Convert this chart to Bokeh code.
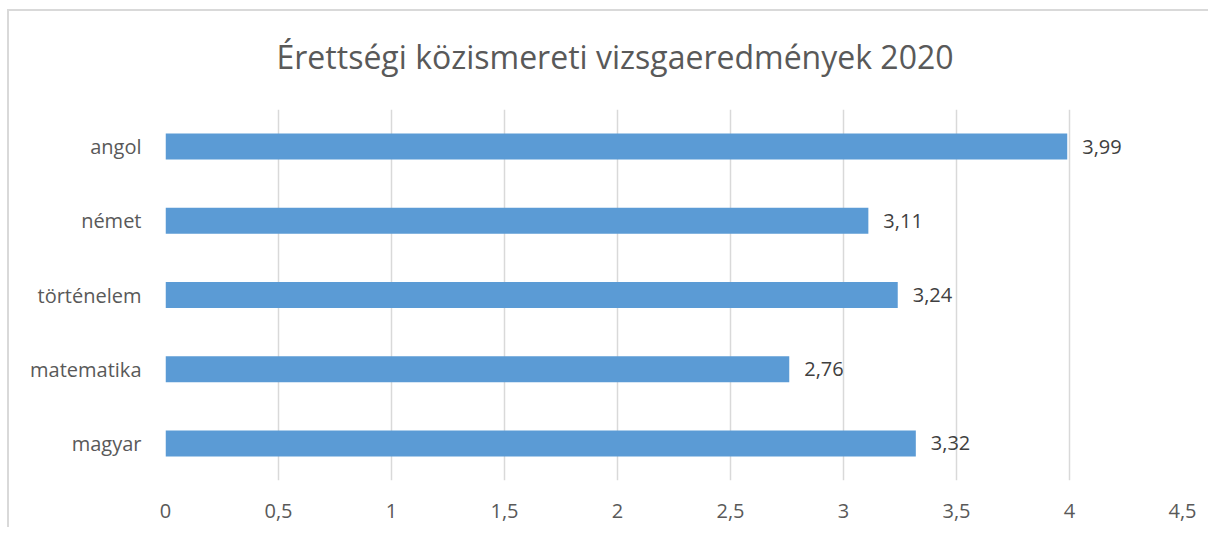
from bokeh.plotting import figure
from bokeh.models import ColumnDataSource, FactorRange, FixedTicker, LabelSet, Title, Range1d
from bokeh.core.properties import value
from bokeh.embed import file_html
from bokeh.resources import INLINE

# data (top to bottom in the chart)
subjects = ["angol", "német", "történelem", "matematika", "magyar"]
scores = [3.99, 3.11, 3.24, 2.76, 3.32]
score_labels = ["3,99", "3,11", "3,24", "2,76", "3,32"]
x_ticks = [0, 0.5, 1, 1.5, 2, 2.5, 3, 3.5, 4, 4.5]
x_tick_labels = ["0", "0,5", "1", "1,5", "2", "2,5", "3", "3,5", "4", "4,5"]
title_text = "Érettségi közismereti vizsgaeredmények 2020"

FONT = "Open Sans"
TXT = "#595959"

src = ColumnDataSource(dict(subject=subjects, score=scores, lbl=score_labels))

p = figure(width=1208, height=527, output_backend="svg", toolbar_location=None,
           y_range=FactorRange(factors=list(reversed(subjects)), range_padding=0),
           x_range=Range1d(0, 4.5),
           min_border_left=165, min_border_right=26, min_border_top=108, min_border_bottom=47)
p.border_fill_color = None
p.background_fill_color = "white"
p.styles = {
    "background": ("linear-gradient(#d9d9d9,#d9d9d9) 7px 9px / 1210px 2px no-repeat, "
                   "linear-gradient(#d9d9d9,#d9d9d9) 7px 9px / 2px 600px no-repeat, white"),
}

p.hbar(y="subject", right="score", left=0, height=0.35, source=src,
       fill_color="#5B9BD5", line_color=None)

p.add_layout(LabelSet(x="score", y="subject", text="lbl", source=src, x_offset=15,
                      text_baseline="middle", text_align="left",
                      text_font=value(FONT), text_font_size="20px", text_color="#404040"))

t = Title(text=title_text, align="left", text_font=FONT, text_font_size="32px",
          text_font_style="normal", text_color=TXT, offset=111, standoff=64)
p.add_layout(t, "above")

p.xaxis.ticker = FixedTicker(ticks=x_ticks)
p.xaxis.major_label_overrides = {t_: l for t_, l in zip(x_ticks, x_tick_labels)}
for ax in (p.xaxis, p.yaxis):
    ax.axis_line_color = None
    ax.major_tick_line_color = None
    ax.minor_tick_line_color = None
    ax.major_label_text_font = FONT
    ax.major_label_text_font_size = "20px"
    ax.major_label_text_color = TXT
p.xaxis.major_label_standoff = 17
p.yaxis.major_label_standoff = 18

p.xgrid.grid_line_color = "#d9d9d9"
p.xgrid.grid_line_width = 1.5
p.ygrid.grid_line_color = None
p.outline_line_color = None

open("out.html", "w").write(file_html(p, INLINE))
